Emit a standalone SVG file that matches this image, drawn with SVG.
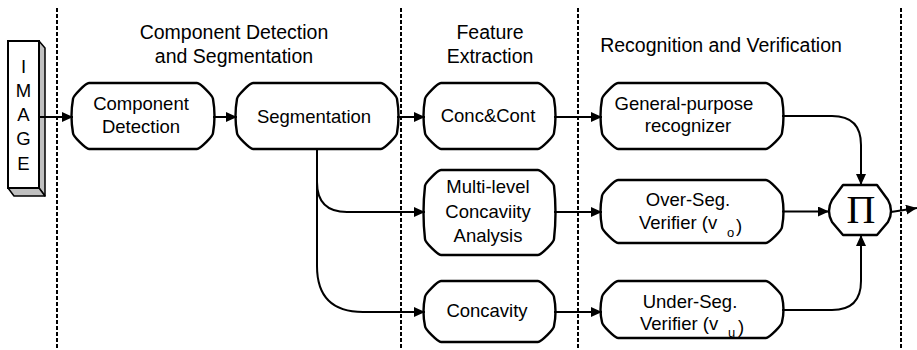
<svg xmlns="http://www.w3.org/2000/svg" width="917" height="350" viewBox="0 0 917 350">
  <defs>
    <style>
      .lbl { font-family: "Liberation Sans", Arial, sans-serif; font-size: 18.5px; fill: #000; text-anchor: middle; }
      .hdr { font-family: "Liberation Sans", Arial, sans-serif; font-size: 19.5px; fill: #000; text-anchor: middle; }
      .start { text-anchor: start; }
      .sub { font-family: "Liberation Sans", Arial, sans-serif; font-size: 13px; fill: #000; }
      .box { fill: #fff; stroke: #000; stroke-width: 2.4; stroke-linejoin: round; }
      .lane { stroke: #000; stroke-width: 2; stroke-dasharray: 4 2; fill: none; }
      .wire { stroke: #000; stroke-width: 2; fill: none; marker-end: url(#arrow); }
    </style>
    <marker id="arrow" markerUnits="userSpaceOnUse" markerWidth="12" markerHeight="10" refX="11" refY="5" orient="auto">
      <path d="M0,0 L11,5 L0,10 Z" fill="#000"/>
    </marker>
  </defs>

  <rect width="917" height="350" fill="#fff"/>

  <!-- stage separators -->
  <g id="lanes">
    <line class="lane" x1="57" y1="8" x2="57" y2="350"/>
    <line class="lane" x1="401" y1="8" x2="401" y2="350"/>
    <line class="lane" x1="578" y1="8" x2="578" y2="350"/>
    <line class="lane" x1="901" y1="8" x2="901" y2="350"/>
  </g>

  <!-- stage titles -->
  <g id="headers">
    <text class="hdr" x="234" y="39">Component Detection</text>
    <text class="hdr" x="234" y="63">and Segmentation</text>
    <text class="hdr" x="490" y="39">Feature</text>
    <text class="hdr" x="490" y="63">Extraction</text>
    <text class="hdr" x="721" y="52">Recognition and Verification</text>
  </g>

  <!-- input block with 3-D edge -->
  <g id="image">
    <polygon points="39,41 45,48 45,196 39,188" fill="#c0c0c0" stroke="#000" stroke-width="1.5" stroke-linejoin="round"/>
    <polygon points="8,188 39,188 45,196 14,196" fill="#c0c0c0" stroke="#000" stroke-width="1.5" stroke-linejoin="round"/>
    <rect x="8" y="41" width="31" height="147" fill="#fff" stroke="#000" stroke-width="2"/>
    <text class="lbl" x="23.5" y="73" font-size="18">I</text>
    <text class="lbl" x="23.5" y="97" font-size="18">M</text>
    <text class="lbl" x="23.5" y="121" font-size="18">A</text>
    <text class="lbl" x="23.5" y="145" font-size="18">G</text>
    <text class="lbl" x="23.5" y="170" font-size="18">E</text>
  </g>

  <g id="component-detection">
    <path class="box" d="M89,83 H197 C200.2,83 213,95.8 213,99 Q216,116 213,133 C213,136.2 200.2,149 197,149 H89 C85.8,149 73,136.2 73,133 Q70,116 73,99 C73,95.8 85.8,83 89,83 Z"/>
    <text class="lbl" x="141" y="110">Component</text>
    <text class="lbl" x="141" y="133">Detection</text>
  </g>

  <g id="segmentation">
    <path class="box" d="M253,83 H381 C384.2,83 397,95.8 397,99 Q400,116 397,133 C397,136.2 384.2,149 381,149 H253 C249.8,149 237,136.2 237,133 Q234,116 237,99 C237,95.8 249.8,83 253,83 Z"/>
    <text class="lbl" x="314" y="123">Segmentation</text>
  </g>

  <g id="conc-cont">
    <path class="box" d="M441,83 H538 C541.2,83 554,95.8 554,99 Q557,116 554,133 C554,136.2 541.2,149 538,149 H441 C437.8,149 425,136.2 425,133 Q422,116 425,99 C425,95.8 437.8,83 441,83 Z"/>
    <text class="lbl" x="488" y="122">Conc&amp;Cont</text>
  </g>

  <g id="general-recognizer">
    <path class="box" d="M618,83 H766 C769.2,83 782,95.8 782,99 Q785,116 782,133 C782,136.2 769.2,149 766,149 H618 C614.8,149 602,136.2 602,133 Q599,116 602,99 C602,95.8 614.8,83 618,83 Z"/>
    <text class="lbl" x="684" y="110">General-purpose</text>
    <text class="lbl" x="688" y="132">recognizer</text>
  </g>

  <g id="multilevel-concavity">
    <path class="box" d="M441,170 H538 C541.2,170 554,182.8 554,186 Q557,212.5 554,239 C554,242.2 541.2,255 538,255 H441 C437.8,255 425,242.2 425,239 Q422,212.5 425,186 C425,182.8 437.8,170 441,170 Z"/>
    <text class="lbl" x="488" y="193">Multi-level</text>
    <text class="lbl" x="488" y="218">Concaviity</text>
    <text class="lbl" x="488" y="242">Analysis</text>
  </g>

  <g id="over-seg-verifier">
    <path class="box" d="M618,180 H766 C769.2,180 782,192.8 782,196 Q785,211.5 782,227 C782,230.2 769.2,243 766,243 H618 C614.8,243 602,230.2 602,227 Q599,211.5 602,196 C602,192.8 614.8,180 618,180 Z"/>
    <text class="lbl" x="688" y="206">Over-Seg.</text>
    <text class="lbl start" x="639" y="229">Verifier (v</text>
    <text class="sub" x="727" y="237">o</text>
    <text class="lbl start" x="736" y="232">)</text>
  </g>

  <g id="concavity">
    <path class="box" d="M441,281 H538 C541.2,281 554,293.8 554,297 Q557,311.5 554,326 C554,329.2 541.2,342 538,342 H441 C437.8,342 425,329.2 425,326 Q422,311.5 425,297 C425,293.8 437.8,281 441,281 Z"/>
    <text class="lbl" x="487" y="317">Concavity</text>
  </g>

  <g id="under-seg-verifier">
    <path class="box" d="M618,281 H766 C769.2,281 782,293.8 782,297 Q785,309.5 782,322 C782,325.2 769.2,338 766,338 H618 C614.8,338 602,325.2 602,322 Q599,309.5 602,297 C602,293.8 614.8,281 618,281 Z"/>
    <text class="lbl" x="690" y="308">Under-Seg.</text>
    <text class="lbl start" x="640" y="330">Verifier (v</text>
    <text class="sub" x="728" y="337">u</text>
    <text class="lbl start" x="738" y="333">)</text>
  </g>

  <g id="product">
    <path class="box" d="M843,185 H877 L888,200 Q891,205 891,211 Q891,217 888,222 L877,235 H843 L832,222 Q829,217 829,211 Q829,205 832,200 Z"/>
    <text x="861" y="223" font-family="'Liberation Serif', 'Times New Roman', serif" font-size="40" text-anchor="middle">Π</text>
  </g>

  <!-- connectors -->
  <g id="connectors">
    <path class="wire" d="M39,117 H73"/>
    <path class="wire" d="M213,117 H237"/>
    <path class="wire" d="M397,117 H425"/>
    <path class="wire" d="M554,117 H602"/>
    <path class="wire" d="M782,116 H832 Q861,116 861,145 V185"/>
    <path class="wire" d="M317,149 V182 Q317,212 347,212 H425"/>
    <path class="wire" d="M317,149 V266 Q317,312 363,312 H425"/>
    <path class="wire" d="M554,212 H602"/>
    <path class="wire" d="M554,312 H602"/>
    <path class="wire" d="M782,211.5 H829"/>
    <path class="wire" d="M782,310 H832 Q861,310 861,281 V235"/>
    <path class="wire" d="M891,212 L917,208"/>
  </g>
</svg>
